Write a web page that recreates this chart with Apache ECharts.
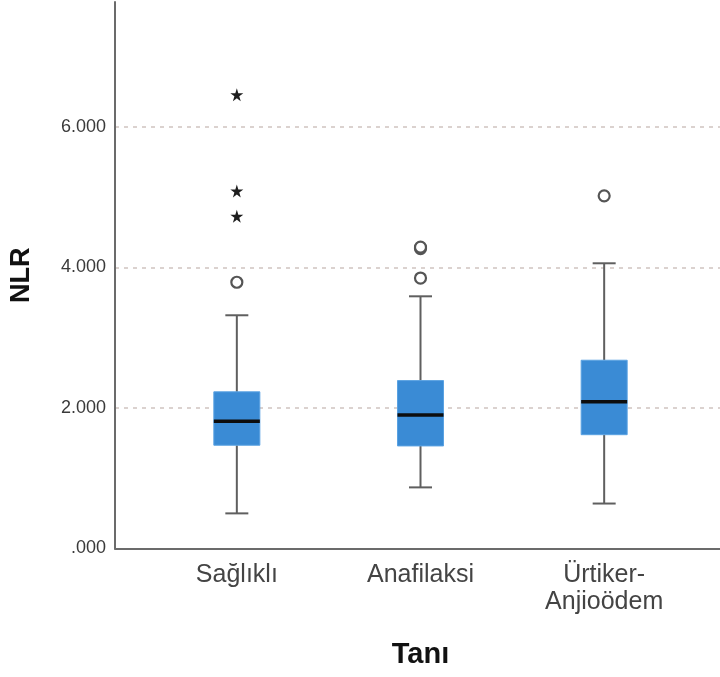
<!DOCTYPE html>
<html>
<head>
<meta charset="utf-8">
<script src="https://cdn.jsdelivr.net/npm/echarts@6/dist/echarts.min.js"></script>
<style>
html,body{margin:0;padding:0;background:#fff;}
#chart{width:720px;height:677px;}
</style>
</head>
<body>
<div id="chart"></div>
<script>
var categories = ['Sağlıklı', 'Anafilaksi', 'Ürtiker-\nAnjioödem'];
var whiskerLow = [0.50, 0.87, 0.64];
var q1 = [1.47, 1.46, 1.62];
var median = [1.81, 1.90, 2.09];
var q3 = [2.23, 2.39, 2.68];
var whiskerHigh = [3.32, 3.59, 4.06];
var circleOutliers = [[0, 3.79], [1, 3.85], [1, 4.27], [1, 4.29], [2, 5.02]];
var starOutliers = [[0, 6.46], [0, 5.09], [0, 4.73]];
var yTicks = [0, 2, 4, 6];

var FONT = '"Liberation Sans", Arial, sans-serif';
var boxData = categories.map(function (c, i) {
  return [i, whiskerLow[i], q1[i], median[i], q3[i], whiskerHigh[i]];
});
var STAR = 'path://M50,0 L61,35 L98,35 L68,57 L79,91 L50,70 L21,91 L32,57 L2,35 L39,35 Z';

var chart = echarts.init(document.getElementById('chart'), null, {renderer: 'canvas'});
var YMAX = 8;
var PX = 70.25;
var BOTTOM_Y = 548.5;
var TOP_Y = BOTTOM_Y - YMAX * PX;
var AXIS_TOP = 2;
chart.setOption({
  animation: false,
  backgroundColor: '#fff',
  grid: [
    {left: 115, right: 0, top: TOP_Y, height: BOTTOM_Y - TOP_Y, outerBoundsMode: 'none', containLabel: false},
    {left: 145, right: 24, top: TOP_Y, height: BOTTOM_Y - TOP_Y, outerBoundsMode: 'none', containLabel: false},
    {left: 115, right: 0, top: AXIS_TOP, height: BOTTOM_Y - AXIS_TOP, outerBoundsMode: 'none', containLabel: false}
  ],
  xAxis: [
    {gridIndex: 0, type: 'value', min: 0, max: 1,
      axisLine: {show: true, lineStyle: {color: '#6b6b6b', width: 2}},
      axisTick: {show: false}, axisLabel: {show: false}, splitLine: {show: false}},
    {gridIndex: 1, type: 'category', data: categories,
      axisLine: {show: false}, axisTick: {show: false}, splitLine: {show: false},
      axisLabel: {fontSize: 25, color: '#444', fontFamily: FONT, lineHeight: 27, margin: 13, interval: 0},
      name: 'Tanı', nameLocation: 'middle', nameGap: 92,
      nameTextStyle: {fontSize: 29, fontWeight: 'bold', color: '#111', fontFamily: FONT}},
    {gridIndex: 2, type: 'value', min: 0, max: 1, show: false}
  ],
  yAxis: [
    {gridIndex: 0, type: 'value', min: 0, max: YMAX, interval: 2,
      axisLine: {show: false},
      axisTick: {show: false},
      axisLabel: {fontSize: 18, color: '#3a3a3a', fontFamily: FONT, margin: 9, showMaxLabel: false,
        formatter: function (v) { return yTicks.indexOf(v) < 0 ? '' : (v === 0 ? '.000' : v.toFixed(3)); }},
      splitLine: {show: true, lineStyle: {color: '#cfc4c0', type: [4, 5], width: 1.5}}},
    {gridIndex: 1, type: 'value', min: 0, max: YMAX, show: false},
    {gridIndex: 2, type: 'value', min: 0, max: 1,
      axisLine: {show: true, lineStyle: {color: '#6b6b6b', width: 2}},
      axisTick: {show: false}, axisLabel: {show: false}, splitLine: {show: false},
      name: 'NLR', nameLocation: 'middle', nameRotate: 90, nameGap: 80,
      nameTextStyle: {fontSize: 27, fontWeight: 'bold', color: '#111', fontFamily: FONT}}
  ],
  series: [
    {
      type: 'custom', xAxisIndex: 1, yAxisIndex: 1, data: boxData,
      encode: {x: 0, y: [1, 2, 3, 4, 5]},
      renderItem: function (params, api) {
        var x = api.value(0);
        var pLow = api.coord([x, api.value(1)]);
        var pQ1 = api.coord([x, api.value(2)]);
        var pMed = api.coord([x, api.value(3)]);
        var pQ3 = api.coord([x, api.value(4)]);
        var pHigh = api.coord([x, api.value(5)]);
        var cx = pMed[0], hw = 23, cw = 11.5;
        var wl = {stroke: '#5f5f5f', lineWidth: 2};
        return {type: 'group', children: [
          {type: 'line', shape: {x1: cx, y1: pLow[1], x2: cx, y2: pQ1[1]}, style: wl},
          {type: 'line', shape: {x1: cx, y1: pQ3[1], x2: cx, y2: pHigh[1]}, style: wl},
          {type: 'line', shape: {x1: cx - cw, y1: pLow[1], x2: cx + cw, y2: pLow[1]}, style: wl},
          {type: 'line', shape: {x1: cx - cw, y1: pHigh[1], x2: cx + cw, y2: pHigh[1]}, style: wl},
          {type: 'rect', shape: {x: cx - hw, y: pQ3[1], width: 2 * hw, height: pQ1[1] - pQ3[1]},
            style: {fill: '#3a8bd5', stroke: '#5aa2e2', lineWidth: 1}},
          {type: 'line', shape: {x1: cx - hw, y1: pMed[1], x2: cx + hw, y2: pMed[1]},
            style: {stroke: '#0d0d0d', lineWidth: 3.5}}
        ]};
      },
      z: 3
    },
    {
      type: 'scatter', xAxisIndex: 1, yAxisIndex: 1, data: circleOutliers,
      symbol: 'circle', symbolSize: 11,
      itemStyle: {color: '#fff', borderColor: '#555', borderWidth: 2.2, opacity: 1}, z: 4
    },
    {
      type: 'scatter', xAxisIndex: 1, yAxisIndex: 1, data: starOutliers,
      symbol: STAR, symbolSize: 13,
      itemStyle: {color: '#1e1e1e', opacity: 1}, z: 4
    }
  ]
});
</script>
</body>
</html>
